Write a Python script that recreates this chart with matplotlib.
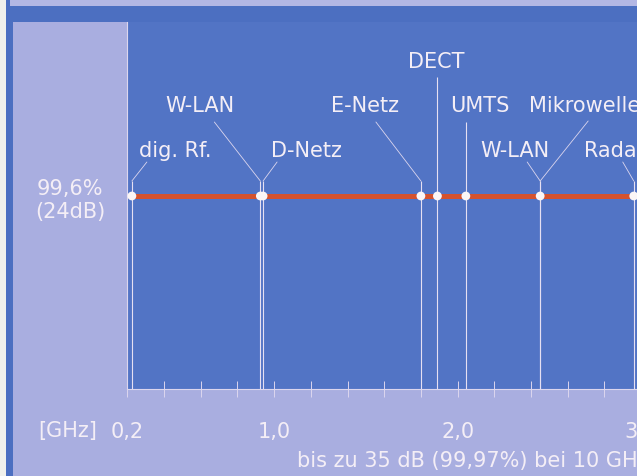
import matplotlib
matplotlib.use('Agg')
import numpy as np
import matplotlib.pyplot as plt
from matplotlib.patches import Rectangle

plt.rcParams['font.family'] = ['DejaVu Sans']

# data
dot_freqs = [0.225, 0.925, 0.94, 1.80, 1.89, 2.045, 2.45, 2.96]   # GHz
labels = ['dig. Rf.', 'W-LAN', 'D-Netz', 'E-Netz', 'DECT', 'UMTS', 'W-LAN', 'Mikrowelle', 'Radar']
label_freqs = [0.225, 0.925, 0.94, 1.80, 1.89, 2.045, 2.45, 2.45, 2.96]
shield_db = 24
shield_label = '99,6%\n(24dB)'
tick_vals = [0.2, 1.0, 2.0, 3.0]
tick_labels = ['0,2', '1,0', '2,0', '3,0']
note = 'bis zu 35 dB (99,97%) bei 10 GHz'

# label layout, pixel offsets from the knee point of each leader:
# (text dx, text baseline dy, ha, leader end dx, leader end dy)
layout = [
    (43, 25, 'center', 15, 19),
    (-60, 70, 'center', -46, 59),
    (43, 25, 'center', 14, 19),
    (-56, 70, 'center', -45, 59),
    (-1, 114, 'center', 0, 104),
    (14, 70, 'center', 0, 59),
    (-25, 25, 'center', -13, 19),
    (-11, 70, 'left', 48, 60),
    (-50, 25, 'left', -11, 19),
]

lav = '#a9aee0'
band = '#4c6fc1'
plot_bg = '#5274c5'
txt = '#f4eef6'
red = '#d4522e'
fs = 15

W, H = 637, 477
fig = plt.figure(figsize=(W / 100, H / 100), dpi=100, facecolor=lav)

def box(x0, y0, x1, y1, c):
    fig.add_artist(Rectangle((x0 / W, 1 - y1 / H), (x1 - x0) / W, (y1 - y0) / H,
                             transform=fig.transFigure, color=c, lw=0, zorder=-5))

box(0, 0, 6.5, H, '#f1f1ec')
box(6.5, 0, 13, H, band)
box(10, 0, W, 7, '#b3b7e4')
box(13, 7, W, 23, band)

# axes run past the right edge, like the cropped original
x0_px, x1_px, top_px, bot_px = 127.3, 680, 23, 390
ax = fig.add_axes([x0_px / W, 1 - bot_px / H, (x1_px - x0_px) / W, (bot_px - top_px) / H])
ax.set_facecolor(plot_bg)
px_per_ghz = 183.5
xmax = 0.2 + (x1_px - x0_px) / px_per_ghz

ax.set_xticks(tick_vals, tick_labels)
ax.set_xticks([v for v in np.arange(0.2, 3.21, 0.2) if min(abs(v - t) for t in tick_vals) > 1e-6], minor=True)
ax.set_xlim(0.2, xmax)
knee = (bot_px - 182) / (bot_px - top_px)
ax.set_ylim(0, shield_db / ((bot_px - 197) / (bot_px - top_px)))

for s in ['top', 'right']:
    ax.spines[s].set_visible(False)
for s in ['left', 'bottom']:
    ax.spines[s].set_color('#dcd6ee')
    ax.spines[s].set_linewidth(0.8)

ax.tick_params(axis='x', which='both', direction='inout', length=11.5, width=0.7,
               color='#dcd6ee', labelcolor=txt, labelsize=fs, pad=17)
ax.set_yticks([shield_db], [shield_label])
ax.tick_params(axis='y', length=0, labelcolor=txt, labelsize=fs, pad=16)
for lbl in ax.get_yticklabels():
    lbl.set_multialignment('center')
    lbl.set_linespacing(1.2)

xt = ax.get_xaxis_transform()
line_tops = []
for (tdx, tdy, ha, ldx, ldy), f in zip(layout, label_freqs):
    line_tops.append(knee + (ldy / (bot_px - top_px) if ldx == 0 else 0))
ax.vlines(label_freqs, 0, line_tops, transform=xt, color='#e6e0f2', lw=0.8, zorder=3)

for name, f, (tdx, tdy, ha, ldx, ldy) in zip(labels, label_freqs, layout):
    if ldx != 0:
        ax.annotate('', xy=(f, knee), xycoords=xt, xytext=(ldx, ldy), textcoords='offset pixels',
                    arrowprops=dict(arrowstyle='-', color='#dcd6ee', lw=0.6, shrinkA=0, shrinkB=0),
                    annotation_clip=False)
    ax.annotate(name, xy=(f, knee), xycoords=xt, xytext=(tdx, tdy), textcoords='offset pixels',
                ha=ha, va='baseline', color=txt, fontsize=fs, annotation_clip=False)

ax.hlines(shield_db, dot_freqs[0], xmax, color=red, lw=3.6, zorder=4)
ax.scatter(dot_freqs, [shield_db] * len(dot_freqs), s=40, color='#fbf6f6', edgecolors='none', zorder=5)

fig.text(38 / W, 1 - 437 / H, '[GHz]', color=txt, fontsize=fs, va='baseline', ha='left')
fig.text(297 / W, 1 - 467 / H, note, color=txt, fontsize=fs, va='baseline', ha='left')

fig.savefig('out.png', dpi=100, facecolor=lav)
